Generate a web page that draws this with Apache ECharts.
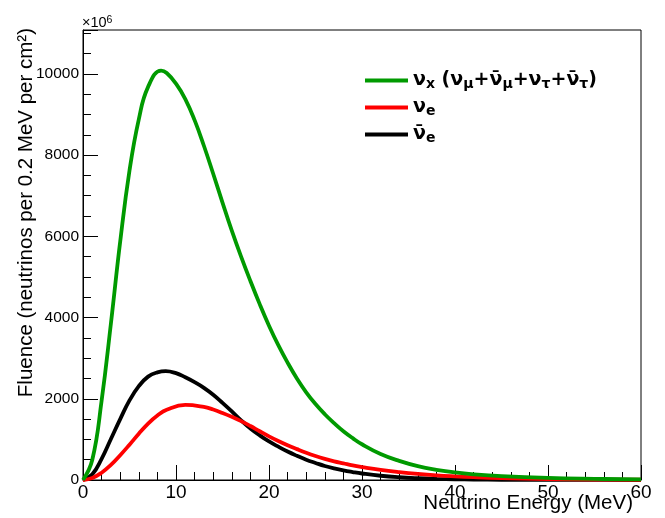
<!DOCTYPE html>
<html>
<head>
<meta charset="utf-8">
<script src="https://cdn.jsdelivr.net/npm/echarts@6/dist/echarts.min.js"></script>
<style>html,body{margin:0;padding:0;background:#fff}#c{width:665px;height:518px}</style>
</head>
<body>
<div id="c"></div>
<script>
// Neutrino energy (MeV) sample points for each curve (each includes the read-off peak)
const energyX    = [0,1,2,3,4,5,6,7,8.4,9,10,11,12,13,14,15,16,17,18,19,20,21,22,23,24,25,26,27,28,29,30,32,34,36,38,40,42,45,50,55,60];
const energyE    = [0,1,2,3,4,5,6,7,8,9,11,13,14,15,16,17,18,19,20,21,22,23,24,25,26,27,28,29,30,32,34,36,38,40,42,45,50,55,60];
const energyEbar = [0,1,2,3,4,5,6,7,8,8.9,10,11,12,13,14,15,16,17,18,19,20,21,22,23,24,25,26,27,28,29,30,32,34,36,38,40,42,45,50,55,60];
// Fluence (x10^6 neutrinos per 0.2 MeV per cm^2)
const nuX    = [0,500,1950,3850,5870,7620,8880,9680,10080,10020,9760,9380,8860,8230,7540,6830,6140,5500,4900,4330,3800,3320,2890,2500,2160,1870,1620,1400,1200,1030,880,640,470,340,250,185,140,95,50,28,15];
const nuE    = [0,50,180,370,610,870,1140,1390,1590,1730,1850,1800,1735,1650,1555,1450,1330,1200,1075,960,855,760,670,590,520,460,410,360,320,250,195,150,115,90,70,48,25,12,6];
const nuEbar = [0,140,520,1010,1500,1960,2310,2545,2650,2680,2630,2530,2410,2270,2100,1900,1690,1470,1270,1100,950,820,700,595,500,420,345,285,235,195,160,105,68,44,28,18,12,6,2,1,0];
const yMajorTicks = [0,2000,4000,6000,8000,10000];
const xMajorTicks = [0,10,20,30,40,50,60];

const FONT = 'Liberation Sans';
const LFONT = 'DejaVu Sans';
const NBAR = '\u03BD\u0304';
const seriesNames = ['nu_x', 'nu_e', 'nubar_e'];
const legendText = {
  'nu_x': '{m|ν}{s|x}{m| (ν}{s|μ}{m|+' + NBAR + '}{s|μ}{m|+ν}{s|τ}{m|+' + NBAR + '}{s|τ}{m|)}',
  'nu_e': '{m|ν}{s|e}',
  'nubar_e': '{m|' + NBAR + '}{s|e}'
};
const colors = {'nu_x': '#009a00', 'nu_e': '#ff0000', 'nubar_e': '#000000'};
const curves = {
  'nu_x': [energyX, nuX],
  'nu_e': [energyE, nuE],
  'nubar_e': [energyEbar, nuEbar]
};

function pairs(xs, ys) { return xs.map((e, i) => [e, ys[i]]); }

const gridBox = {left: 83, right: 24, top: 30, bottom: 38, outerBoundsMode: 'none', containLabel: false};
const chart = echarts.init(document.getElementById('c'), null, {renderer: 'canvas'});
const drawOrder = ['nubar_e', 'nu_e', 'nu_x'];

chart.setOption({
  backgroundColor: '#fff',
  animation: false,
  title: {
    text: '{n|×10}{p|6}',
    left: 82, top: 15, padding: 0,
    textStyle: {
      fontFamily: FONT, fontSize: 14, fontWeight: 'normal', color: '#000',
      rich: {
        n: {fontFamily: FONT, fontSize: 14.5, fontWeight: 'normal', color: '#000', lineHeight: 16},
        p: {fontFamily: FONT, fontSize: 10.5, fontWeight: 'normal', color: '#000', lineHeight: 16, verticalAlign: 'top', padding: [0,0,7,0]}
      }
    }
  },
  legend: {
    data: seriesNames,
    orient: 'vertical',
    left: 365, top: 71, padding: 0,
    itemWidth: 43, itemHeight: 4, itemGap: 6.5,
    icon: 'rect',
    formatter: name => legendText[name],
    textStyle: {
      color: '#000',
      rich: {
        m: {fontFamily: LFONT, fontWeight: 'bold', fontSize: 19, color: '#000', lineHeight: 22},
        s: {fontFamily: LFONT, fontWeight: 'bold', fontSize: 14, color: '#000', lineHeight: 12, verticalAlign: 'bottom'}
      }
    }
  },
  grid: [
    Object.assign({show: true, borderColor: '#000', borderWidth: 1, backgroundColor: 'transparent'}, gridBox),
    Object.assign({}, gridBox)
  ],
  xAxis: [{
    type: 'value', min: 0, max: 60, interval: 10,
    name: 'Neutrino Energy (MeV)',
    nameLocation: 'end', nameGap: -8, nameMoveOverlap: false,
    nameTextStyle: {fontFamily: FONT, fontSize: 20.5, color: '#000', align: 'right', verticalAlign: 'top', padding: [13,0,0,0]},
    axisLine: {show: true, onZero: false, lineStyle: {color: '#000', width: 1}},
    axisTick: {show: true, inside: true, length: 15, lineStyle: {color: '#000', width: 1}},
    minorTick: {show: true, splitNumber: 5, length: 8, lineStyle: {color: '#000', width: 1}},
    axisLabel: {
      fontFamily: FONT, fontSize: 19, color: '#000', margin: 3,
      formatter: v => (xMajorTicks.indexOf(v) >= 0 ? String(v) : '')
    },
    splitLine: {show: false}
  }, {
    gridIndex: 1, type: 'value', min: 0, max: 60, show: false
  }],
  yAxis: [{
    type: 'value', min: 0, max: 11080, interval: 2000,
    name: 'Fluence (neutrinos per 0.2 MeV per cm²)',
    nameLocation: 'end', nameGap: 2, nameRotate: 90, nameMoveOverlap: false,
    nameTextStyle: {fontFamily: FONT, fontSize: 20.5, color: '#000', align: 'right', verticalAlign: 'bottom', padding: [0,0,46,0]},
    axisLine: {show: true, onZero: false, lineStyle: {color: '#000', width: 1}},
    axisTick: {show: true, inside: true, length: 15, lineStyle: {color: '#000', width: 1}},
    axisLabel: {
      fontFamily: FONT, fontSize: 15.5, color: '#000', margin: 4,
      formatter: v => (yMajorTicks.indexOf(v) >= 0 ? String(v) : '')
    },
    splitLine: {show: false}
  }, {
    gridIndex: 1, type: 'value', min: 0, max: 11080, interval: 500,
    axisLine: {show: false},
    axisTick: {show: true, inside: true, length: 8, lineStyle: {color: '#000', width: 1}},
    axisLabel: {show: false},
    splitLine: {show: false}
  }],
  series: drawOrder.map(n => ({
    name: n,
    type: 'line',
    xAxisIndex: 0, yAxisIndex: 0,
    data: pairs(curves[n][0], curves[n][1]),
    smooth: 0.45,
    showSymbol: false,
    symbol: 'none',
    color: colors[n],
    itemStyle: {color: colors[n]},
    lineStyle: {color: colors[n], width: 3.8},
    emphasis: {disabled: true}
  }))
});
</script>
</body>
</html>
